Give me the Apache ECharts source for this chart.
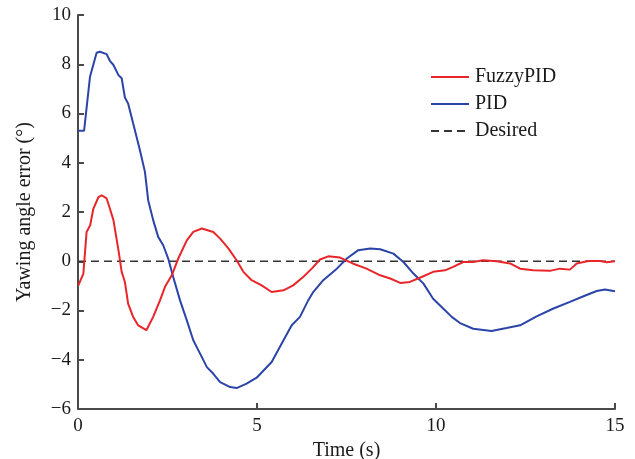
<!DOCTYPE html>
<html><head><meta charset="utf-8">
<script src="https://cdn.jsdelivr.net/npm/echarts@6/dist/echarts.min.js"></script>
<style>html,body{margin:0;padding:0;background:#fff}#c{width:635px;height:459px}</style>
</head><body><div id="c"></div>
<script>
var fuzzyT = [0.01,0.15,0.24,0.34,0.43,0.57,0.66,0.80,0.89,0.99,1.13,1.22,1.31,1.40,1.54,1.68,1.91,2.10,2.29,2.43,2.62,2.80,3.04,3.22,3.46,3.78,3.97,4.20,4.43,4.62,4.85,5.13,5.41,5.74,6.01,6.29,6.53,6.76,6.99,7.32,7.69,8.06,8.44,8.72,9.00,9.27,9.60,9.92,10.25,10.48,10.76,11.04,11.32,11.69,12.07,12.35,12.72,13.18,13.46,13.74,13.93,14.26,14.58,14.77,15.0];
var fuzzyY = [-0.98,-0.50,1.19,1.46,2.14,2.60,2.68,2.55,2.14,1.67,0.45,-0.43,-0.84,-1.72,-2.26,-2.60,-2.80,-2.26,-1.59,-1.04,-0.57,0.11,0.85,1.19,1.33,1.19,0.92,0.52,0.04,-0.43,-0.77,-0.98,-1.25,-1.18,-0.98,-0.64,-0.30,0.07,0.20,0.15,-0.10,-0.30,-0.57,-0.70,-0.88,-0.84,-0.64,-0.43,-0.37,-0.23,-0.03,-0.03,0.04,0.00,-0.09,-0.30,-0.37,-0.39,-0.30,-0.34,-0.09,0.01,0.01,-0.04,0.0];
var pidT = [0.0,0.17,0.335,0.52,0.61,0.80,0.89,0.99,1.13,1.22,1.31,1.40,1.54,1.73,1.87,1.96,2.10,2.24,2.38,2.52,2.66,2.85,3.04,3.22,3.41,3.60,3.78,3.97,4.25,4.43,4.71,4.99,5.41,5.74,5.97,6.20,6.43,6.57,6.85,7.23,7.51,7.83,8.16,8.44,8.81,9.09,9.37,9.65,9.92,10.20,10.44,10.67,11.04,11.55,11.97,12.35,12.81,13.28,13.74,14.12,14.49,14.72,15.0];
var pidY = [5.30,5.30,7.49,8.47,8.51,8.41,8.14,7.97,7.56,7.43,6.65,6.41,5.60,4.51,3.63,2.48,1.67,0.99,0.65,0.11,-0.64,-1.59,-2.40,-3.21,-3.75,-4.30,-4.57,-4.91,-5.11,-5.15,-4.97,-4.73,-4.09,-3.21,-2.60,-2.26,-1.59,-1.25,-0.77,-0.30,0.11,0.45,0.52,0.49,0.31,-0.03,-0.50,-0.91,-1.52,-1.92,-2.26,-2.51,-2.74,-2.83,-2.71,-2.60,-2.24,-1.92,-1.65,-1.42,-1.21,-1.15,-1.22];
var desiredT = [0, 15];
var desiredY = [0, 0];
var xTicks = [0, 5, 10, 15];
var yTicks = [-6, -4, -2, 0, 2, 4, 6, 8, 10];

function pairs(t, y){ return t.map(function(v,i){ return [v, y[i]]; }); }
function minus(v){ return String(v).replace('-', '\u2212'); }
var font = 'Liberation Serif';
var txt = '#1a1a1a';
var chart = echarts.init(document.getElementById('c'));
chart.setOption({
  animation: false,
  textStyle: { fontFamily: font },
  grid: { left: 78, right: 20, top: 15, bottom: 50, containLabel: false, outerBoundsMode: 'none' },
  legend: {
    orient: 'vertical', left: 425, top: 62, itemWidth: 38, itemHeight: 14, itemGap: 7,
    itemStyle: { opacity: 0 },
    textStyle: { fontFamily: font, fontSize: 20, color: txt, padding: [0, 0, 0, 1] },
    data: ['FuzzyPID', 'PID', 'Desired']
  },
  xAxis: {
    type: 'value', min: xTicks[0], max: xTicks[xTicks.length-1], interval: 5,
    name: 'Time (s)', nameLocation: 'middle', nameGap: 24,
    nameTextStyle: { fontFamily: font, fontSize: 20, color: txt },
    axisLine: { onZero: false, lineStyle: { color: '#4a4a4a', width: 2 } },
    axisTick: { inside: true, length: 6, lineStyle: { color: '#4a4a4a', width: 2 } },
    axisLabel: { fontFamily: font, fontSize: 19, color: txt, margin: 8, formatter: minus },
    splitLine: { show: false }
  },
  yAxis: {
    type: 'value', min: yTicks[0], max: yTicks[yTicks.length-1], interval: 2,
    name: 'Yawing angle error (°)', nameLocation: 'middle', nameGap: 43, nameRotate: 90,
    nameTextStyle: { fontFamily: font, fontSize: 20, color: txt },
    axisLine: { onZero: false, lineStyle: { color: '#4a4a4a', width: 2 } },
    axisTick: { inside: true, length: 6, lineStyle: { color: '#4a4a4a', width: 2 } },
    axisLabel: { fontFamily: font, fontSize: 19, color: txt, margin: 7, formatter: minus },
    splitLine: { show: false }
  },
  series: [
    { name: 'FuzzyPID', type: 'line', data: pairs(fuzzyT, fuzzyY), showSymbol: false, symbol: 'none',
      lineStyle: { color: '#e8262a', width: 2 }, itemStyle: { color: '#e8262a' }, z: 3 },
    { name: 'PID', type: 'line', data: pairs(pidT, pidY), showSymbol: false, symbol: 'none',
      lineStyle: { color: '#2b44a8', width: 2 }, itemStyle: { color: '#2b44a8' }, z: 2 },
    { name: 'Desired', type: 'line', data: pairs(desiredT, desiredY), showSymbol: false, symbol: 'none',
      lineStyle: { color: '#333', width: 1.3, type: [8, 5] }, itemStyle: { color: '#111' }, z: 1 }
  ]
});
</script></body></html>
